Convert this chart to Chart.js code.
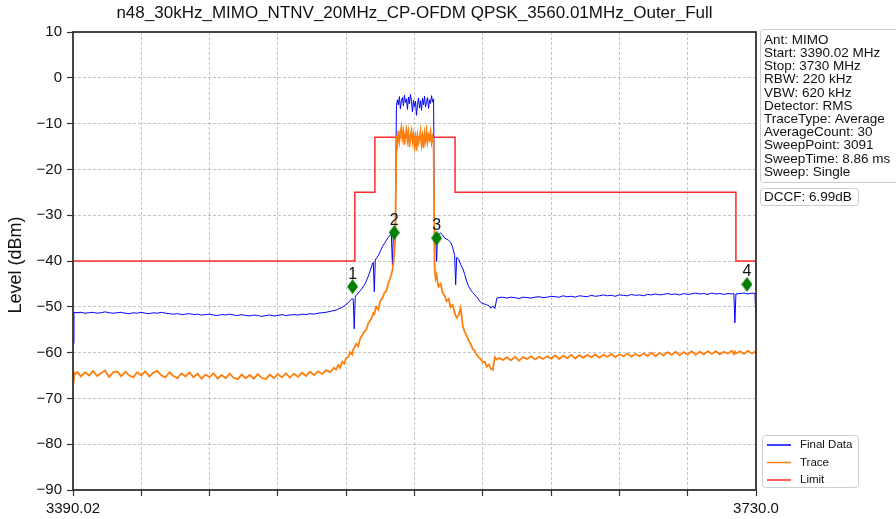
<!DOCTYPE html>
<html>
<head>
<meta charset="utf-8">
<script src="https://cdn.jsdelivr.net/npm/chart.js@4.4.1/dist/chart.umd.min.js"></script>
<style>
  html, body { margin: 0; padding: 0; background: #fff; }
  canvas { display: block; }
</style>
</head>
<body>
<canvas id="spectrum" width="896" height="519"></canvas>
<script>
// frequency points (MHz)
var freqs = [
  3390.02, 3390.5, 3392, 3394, 3396, 3398, 3400, 3402, 3404, 3406,
  3408, 3410, 3412, 3414, 3416, 3418, 3420, 3422, 3424, 3426,
  3428, 3430, 3432, 3434, 3436, 3438, 3440, 3442, 3444, 3446,
  3448, 3450, 3452, 3454, 3456, 3458, 3460, 3462, 3464, 3466,
  3468, 3470, 3472, 3474, 3476, 3478, 3480, 3482, 3484, 3486,
  3488, 3490, 3492, 3494, 3496, 3498, 3500, 3502, 3504, 3506,
  3508, 3510, 3512, 3514, 3516, 3518, 3520, 3521, 3522, 3523,
  3524, 3525, 3526, 3527, 3528, 3529, 3529.5, 3530, 3530.5, 3531,
  3532, 3533, 3534, 3535, 3536, 3537, 3538, 3539, 3539.5, 3540,
  3540.5, 3541, 3542, 3543, 3544, 3545, 3546, 3547, 3548, 3548.5,
  3549, 3549.5, 3550, 3550.5, 3551, 3551.5, 3552, 3552.5, 3553, 3553.5,
  3554, 3554.5, 3555, 3555.5, 3556, 3556.5, 3557, 3557.5, 3558, 3558.5,
  3559, 3559.5, 3560, 3560.5, 3561, 3561.5, 3562, 3562.5, 3563, 3563.5,
  3564, 3564.5, 3565, 3565.5, 3566, 3566.5, 3567, 3567.5, 3568, 3568.5,
  3569, 3569.5, 3570, 3570.5, 3571, 3571.5, 3572, 3573, 3574, 3575,
  3576, 3577, 3578, 3579, 3580, 3580.5, 3581, 3582, 3583, 3584,
  3585, 3586, 3587, 3588, 3589, 3590, 3591, 3592, 3593, 3594,
  3595, 3596, 3597, 3598, 3599, 3600, 3601, 3602, 3604, 3606,
  3608, 3610, 3612, 3614, 3616, 3618, 3620, 3622, 3624, 3626,
  3628, 3630, 3632, 3634, 3636, 3638, 3640, 3642, 3644, 3646,
  3648, 3650, 3652, 3654, 3656, 3658, 3660, 3662, 3664, 3666,
  3668, 3670, 3672, 3674, 3676, 3678, 3680, 3682, 3684, 3686,
  3688, 3690, 3692, 3694, 3696, 3698, 3700, 3702, 3704, 3706,
  3708, 3710, 3712, 3714, 3716, 3718, 3719, 3719.5, 3720, 3722,
  3724, 3726, 3728, 3729.5, 3730
];

// "Final Data" (dBm)
var finalData = [
  -58.0, -51.2, -51.3, -51.2, -51.4, -51.3, -51.2, -51.4, -51.3, -51.1,
  -51.3, -51.4, -51.3, -51.2, -51.4, -51.5, -51.3, -51.4, -51.2, -51.4,
  -51.5, -51.3, -51.4, -51.2, -51.4, -51.5, -51.6, -51.5, -51.7, -51.6,
  -51.5, -51.7, -51.6, -51.8, -51.7, -51.6, -51.8, -51.9, -51.7, -51.8,
  -51.6, -51.8, -51.9, -51.7, -51.9, -52.0, -51.8, -51.9, -52.1, -51.9,
  -51.8, -52.0, -51.9, -51.7, -51.9, -51.8, -51.7, -51.8, -51.6, -51.7,
  -51.5, -51.6, -51.4, -51.3, -51.2, -51.0, -50.8, -50.7, -50.5, -50.3,
  -50.1, -49.8, -49.5, -49.1, -48.6, -48.2, -48.3, -54.8, -47.9, -47.5,
  -47.0, -46.5, -45.9, -45.3, -44.4, -43.3, -42.1, -40.7, -40.3, -46.7,
  -39.8, -39.4, -38.8, -37.9, -36.9, -36.2, -35.5, -34.8, -34.3, -34.2,
  -40.8, -34.0, -33.7, -33.3, -6.2, -4.8, -5.9, -4.1, -6.8, -5.0,
  -4.3, -6.1, -3.8, -5.4, -4.6, -6.9, -4.2, -5.7, -3.6, -5.2,
  -7.4, -4.9, -6.3, -5.1, -8.2, -5.8, -4.4, -6.6, -5.0, -7.1,
  -4.5, -5.9, -4.0, -6.4, -5.2, -4.3, -6.7, -4.8, -5.6, -3.9,
  -5.3, -4.6, -34.0, -33.9, -40.1, -34.0, -34.2, -33.9, -34.3, -35.0,
  -35.2, -35.5, -35.9, -37.0, -38.8, -45.2, -39.2, -39.6, -40.8, -41.6,
  -42.9, -44.5, -45.6, -46.3, -46.9, -47.4, -47.9, -48.5, -49.0, -49.3,
  -49.4, -49.6, -49.7, -50.3, -49.8, -50.4, -48.1, -48.0, -47.9, -48.1,
  -47.9, -48.0, -48.2, -47.9, -48.0, -48.1, -47.9, -47.8, -48.0, -47.9,
  -47.7, -47.8, -47.9, -47.6, -47.8, -47.7, -47.9, -47.6, -47.7, -47.8,
  -47.5, -47.7, -47.6, -47.4, -47.6, -47.5, -47.7, -47.4, -47.5, -47.6,
  -47.3, -47.5, -47.4, -47.6, -47.3, -47.4, -47.2, -47.4, -47.3, -47.1,
  -47.3, -47.2, -47.4, -47.1, -47.3, -47.2, -47.0, -47.2, -47.1, -47.3,
  -47.0, -47.2, -47.1, -47.3, -47.1, -47.2, -47.1, -53.5, -47.2, -47.1,
  -47.0, -47.2, -47.0, -47.1, -53.5
];

// "Trace" (dBm)
var traceData = [
  -64.1, -65.1, -64.2, -65.2, -64.3, -65.0, -64.0, -65.1, -64.5, -63.9,
  -65.3, -64.3, -64.1, -65.2, -64.2, -65.0, -65.4, -64.3, -65.0, -64.1,
  -65.2, -64.4, -64.0, -65.0, -65.4, -64.3, -65.1, -65.6, -64.5, -65.2,
  -64.3, -65.4, -64.6, -65.7, -64.8, -65.4, -64.5, -65.7, -64.9, -65.6,
  -64.6, -65.5, -65.8, -64.8, -65.6, -64.9, -65.7, -64.7, -65.5, -65.8,
  -64.8, -65.6, -64.7, -65.4, -64.5, -65.5, -64.6, -65.3, -64.4, -65.1,
  -64.2, -64.9, -64.1, -64.7, -63.8, -64.3, -63.3, -63.7, -62.7, -63.3,
  -62.0, -62.4, -61.2, -61.0, -59.9, -60.4, -59.3, -59.0, -58.5, -58.1,
  -58.6, -56.9, -56.2, -55.4, -55.0, -53.6, -53.0, -52.1, -51.4, -51.6,
  -50.6, -50.0, -50.6, -48.7, -48.1, -47.0, -46.5, -44.9, -43.6, -43.0,
  -42.0, -40.5, -37.8, -34.5, -12.6, -14.3, -11.5, -13.8, -12.1, -10.8,
  -13.2, -11.9, -14.6, -12.4, -11.3, -13.6, -12.0, -15.1, -12.8, -11.6,
  -13.9, -12.5, -14.8, -13.1, -15.9, -12.7, -14.2, -13.3, -11.8, -14.5,
  -12.9, -15.3, -12.2, -13.7, -11.7, -14.0, -12.6, -13.4, -11.9, -14.1,
  -12.8, -13.5, -41.5, -43.8, -43.0, -44.6, -45.6, -45.0, -46.9, -47.6,
  -48.8, -48.3, -50.1, -49.6, -51.3, -51.9, -52.4, -51.8, -50.2, -54.1,
  -55.5, -56.3, -57.4, -58.1, -59.2, -59.6, -60.5, -61.1, -61.4, -62.2,
  -62.0, -63.1, -62.6, -63.5, -63.8, -61.0, -61.5, -61.2, -61.6, -61.0,
  -61.7, -60.9, -61.8, -61.0, -61.4, -60.8, -61.5, -60.9, -61.4, -60.8,
  -61.3, -60.6, -61.4, -60.7, -61.2, -60.5, -61.3, -60.6, -61.1, -60.5,
  -61.0, -60.4, -61.1, -60.5, -60.9, -60.3, -61.0, -60.4, -60.8, -60.2,
  -60.9, -60.3, -60.8, -60.2, -60.7, -60.0, -60.8, -60.1, -60.6, -59.9,
  -60.5, -59.8, -60.6, -59.9, -60.4, -59.7, -60.5, -59.8, -60.4, -59.7,
  -60.3, -59.7, -60.4, -59.8, -60.2, -59.6, -60.3, -59.8, -60.2, -59.7,
  -60.3, -59.6, -60.2, -59.8, -60.1
];

// limit mask corners
var limitFreqs  = [3390.02, 3530.3, 3530.3, 3540.3, 3540.3, 3580.2, 3580.2, 3720.0, 3720.0, 3730.0];
var limitLevels = [-40, -40, -25, -25, -13, -13, -25, -25, -40, -40];

// markers
var markerFreqs  = [3529.2, 3549.9, 3571.05, 3725.5];
var markerLevels = [-45.6, -33.8, -35.0, -45.1];
var markerLabels = ['1', '2', '3', '4'];

// axis ticks
var xTickValues = [3390.02, 3424.02, 3458.02, 3492.01, 3526.01, 3560.01, 3594.01, 3628.01, 3662.0, 3696.0, 3730.0];
var xTickLabels = ['3390.02', '', '', '', '', '', '', '', '', '', '3730.0'];
var yTickValues = [10, 0, -10, -20, -30, -40, -50, -60, -70, -80, -90];

var titleText = 'n48_30kHz_MIMO_NTNV_20MHz_CP-OFDM QPSK_3560.01MHz_Outer_Full';
var infoLines = [
  'Ant: MIMO', 'Start: 3390.02 MHz', 'Stop: 3730 MHz', 'RBW: 220 kHz', 'VBW: 620 kHz',
  'Detector: RMS', 'TraceType: Average', 'AverageCount: 30', 'SweepPoint: 3091',
  'SweepTime: 8.86 ms', 'Sweep: Single'
];
var dccfText = 'DCCF: 6.99dB';
var legendNames  = ['Final Data', 'Trace', 'Limit'];
var legendColors = ['#0000ff', '#ff7f0e', '#ff2a2a'];

var FONT = '"Liberation Sans", Arial, sans-serif';

function pts(xs, ys){
  return xs.map(function(x, i){ return {x: x, y: ys[i]}; });
}

function diamondImg(w, h, color){
  var c = document.createElement('canvas');
  c.width = w; c.height = h;
  var g = c.getContext('2d');
  g.fillStyle = color;
  g.beginPath();
  g.moveTo(w/2, 0); g.lineTo(w, h/2); g.lineTo(w/2, h); g.lineTo(0, h/2);
  g.closePath(); g.fill();
  return c;
}

function roundBox(ctx, x, y, w, h, r){
  ctx.beginPath();
  ctx.moveTo(x + r, y);
  ctx.lineTo(x + w - r, y); ctx.arcTo(x + w, y, x + w, y + r, r);
  ctx.lineTo(x + w, y + h - r); ctx.arcTo(x + w, y + h, x + w - r, y + h, r);
  ctx.lineTo(x + r, y + h); ctx.arcTo(x, y + h, x, y + h - r, r);
  ctx.lineTo(x, y + r); ctx.arcTo(x, y, x + r, y, r);
  ctx.closePath();
  ctx.fillStyle = '#fff'; ctx.fill();
  ctx.strokeStyle = '#cccccc'; ctx.lineWidth = 1; ctx.stroke();
}

var overlay = {
  id: 'overlay',
  afterDraw: function(chart){
    var ctx = chart.ctx, a = chart.chartArea;
    var xs = chart.scales.x, ys = chart.scales.y;
    ctx.save();

    // frame
    ctx.strokeStyle = '#333'; ctx.lineWidth = 1.8;
    ctx.strokeRect(a.left, a.top, a.right - a.left, a.bottom - a.top);

    // marker numbers
    ctx.fillStyle = '#111';
    ctx.font = '16px ' + FONT;
    ctx.textAlign = 'center'; ctx.textBaseline = 'alphabetic';
    markerFreqs.forEach(function(f, i){
      ctx.fillText(markerLabels[i], xs.getPixelForValue(f), ys.getPixelForValue(markerLevels[i]) - 8);
    });

    // title
    ctx.font = '17px ' + FONT;
    ctx.textBaseline = 'middle';
    ctx.fillText(titleText, (a.left + a.right) / 2, 13);

    // y axis title
    ctx.save();
    ctx.translate(16, (a.top + a.bottom) / 2 + 4);
    ctx.rotate(-Math.PI / 2);
    ctx.font = '18px ' + FONT;
    ctx.fillText('Level (dBm)', 0, 0);
    ctx.restore();

    // info box
    roundBox(ctx, 760.5, 29.5, 160, 153, 3);
    ctx.fillStyle = '#111';
    ctx.font = '13.5px ' + FONT;
    ctx.textAlign = 'left';
    infoLines.forEach(function(t, i){ ctx.fillText(t, 764, 40 + i * 13.2); });

    roundBox(ctx, 760.5, 188.5, 98, 17, 3);
    ctx.fillStyle = '#111';
    ctx.fillText(dccfText, 764, 197.5);

    // legend
    roundBox(ctx, 762.5, 435.5, 96, 52, 3);
    ctx.font = '11.5px ' + FONT;
    legendNames.forEach(function(n, i){
      var y = 445 + i * 17.5;
      ctx.strokeStyle = legendColors[i]; ctx.lineWidth = 1.5;
      ctx.beginPath(); ctx.moveTo(767, y); ctx.lineTo(791, y); ctx.stroke();
      ctx.fillStyle = '#111';
      ctx.fillText(n, 800, y);
    });

    ctx.restore();
  }
};

var gridStyle = {
  color: '#b4b4b4', lineWidth: 0.8,
  drawTicks: true, tickLength: 6, tickColor: '#333', tickWidth: 1.2
};

new Chart(document.getElementById('spectrum'), {
  type: 'line',
  data: {
    datasets: [
      {
        label: 'Markers', type: 'scatter', data: pts(markerFreqs, markerLevels),
        pointStyle: diamondImg(11, 15, '#038003'), pointRadius: 7, showLine: false, order: 0
      },
      {
        label: 'Trace', data: pts(freqs, traceData),
        borderColor: '#ff7f0e', borderWidth: 1.8, pointRadius: 0, tension: 0, order: 1
      },
      {
        label: 'Final Data', data: pts(freqs, finalData),
        borderColor: '#0000ff', borderWidth: 1, pointRadius: 0, tension: 0, order: 2
      },
      {
        label: 'Limit', data: pts(limitFreqs, limitLevels),
        borderColor: '#ff2a2a', borderWidth: 1.5, pointRadius: 0, tension: 0, order: 3
      }
    ]
  },
  options: {
    responsive: false,
    devicePixelRatio: 1,
    animation: false,
    layout: { padding: { top: 32, right: 140, left: 0, bottom: 0 } },
    plugins: { legend: { display: false }, title: { display: false }, tooltip: { enabled: false } },
    scales: {
      x: {
        type: 'linear', min: 3390.02, max: 3730.0,
        afterBuildTicks: function(s){ s.ticks = xTickValues.map(function(v){ return {value: v}; }); },
        afterFit: function(s){ s.height = 29; },
        grid: gridStyle,
        border: { display: false, dash: [3, 2] },
        ticks: {
          autoSkip: false, maxRotation: 0, padding: 4, color: '#111',
          font: { size: 15, family: FONT },
          callback: function(v, i){ return xTickLabels[i]; }
        }
      },
      y: {
        type: 'linear', min: -90, max: 10,
        afterBuildTicks: function(s){ s.ticks = yTickValues.map(function(v){ return {value: v}; }); },
        afterFit: function(s){ s.width = 73; },
        grid: gridStyle,
        border: { display: false, dash: [3, 2] },
        ticks: {
          padding: 5, color: '#111',
          font: { size: 15, family: FONT },
          callback: function(v){ return String(v).replace('-', '\u2212'); }
        }
      }
    }
  },
  plugins: [overlay]
});
</script>
</body>
</html>
